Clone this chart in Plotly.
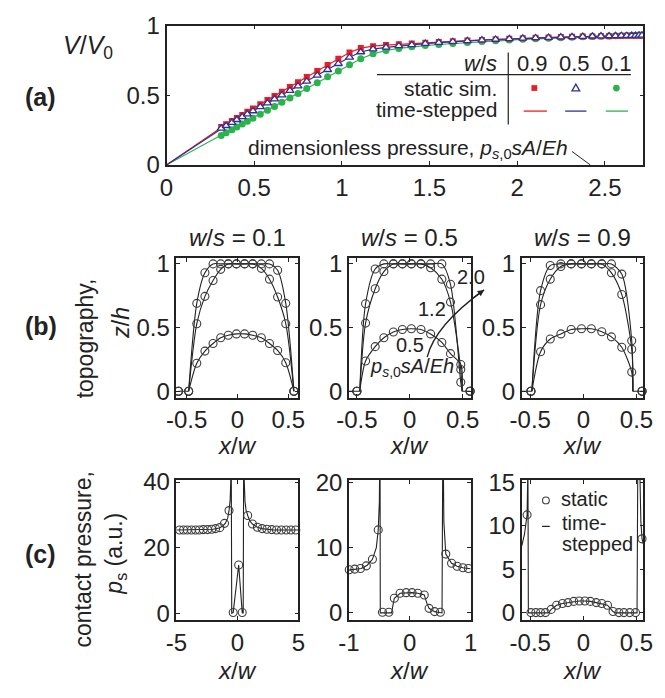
import plotly.graph_objects as go

W, H = 665, 698
def px(x): return x / W
def py(y): return 1 - y / H

FONT = "Liberation Sans, Arial, Helvetica, sans-serif"
INK = "#222222"
GRAY = "#3c3c3c"
RED = "#ED1C24"; BLUE = "#2E3192"; GREEN = "#2BB24C"

# ---------------- panel (a): V/V0 vs dimensionless pressure ----------------
a_p = [0.312, 0.340, 0.373, 0.401, 0.432, 0.461, 0.493, 0.535, 0.576, 0.616, 0.658, 0.704,
       0.750, 0.800, 0.860, 0.919, 0.980, 1.044, 1.108, 1.178, 1.252, 1.325, 1.399, 1.476,
       1.553, 1.633, 1.716, 1.799, 1.877, 1.955, 2.032, 2.105, 2.179, 2.249, 2.313, 2.374,
       2.429, 2.478, 2.524, 2.561, 2.594, 2.625, 2.653, 2.675, 2.695, 2.712]
a_v09 = [0.272, 0.292, 0.316, 0.337, 0.359, 0.381, 0.404, 0.435, 0.465, 0.494, 0.525, 0.559,
         0.593, 0.630, 0.674, 0.717, 0.761, 0.807, 0.838, 0.852, 0.860, 0.866, 0.871, 0.876,
         0.882, 0.887, 0.892, 0.897, 0.901, 0.905, 0.909, 0.912, 0.915, 0.917, 0.919, 0.921,
         0.922, 0.923, 0.924, 0.925, 0.925, 0.926, 0.926, 0.926, 0.927, 0.927]
a_v05 = [0.262, 0.281, 0.304, 0.324, 0.345, 0.365, 0.387, 0.416, 0.444, 0.472, 0.501, 0.533,
         0.565, 0.600, 0.642, 0.683, 0.726, 0.772, 0.810, 0.831, 0.844, 0.854, 0.862, 0.870,
         0.877, 0.884, 0.890, 0.895, 0.900, 0.904, 0.908, 0.911, 0.914, 0.917, 0.919, 0.921,
         0.923, 0.924, 0.925, 0.926, 0.927, 0.927, 0.928, 0.928, 0.929, 0.929]
a_v01 = [0.212, 0.231, 0.253, 0.272, 0.293, 0.313, 0.335, 0.364, 0.392, 0.420, 0.449, 0.481,
         0.513, 0.548, 0.590, 0.632, 0.674, 0.719, 0.762, 0.797, 0.821, 0.836, 0.847, 0.856,
         0.864, 0.871, 0.878, 0.885, 0.891, 0.896, 0.901, 0.905, 0.909, 0.913, 0.916, 0.919,
         0.921, 0.923, 0.925, 0.927, 0.928, 0.929, 0.930, 0.931, 0.932, 0.933]
a_xticks = [0, 0.5, 1, 1.5, 2, 2.5]
a_xticklabels = ["0", "0.5", "1", "1.5", "2", "2.5"]
a_yticks = [0, 0.5, 1]
a_yticklabels = ["0", "0.5", "1"]

# ---------------- panel (b): topography z/h ----------------
b1_x = [-0.58, -0.48, -0.40, -0.32, -0.24, -0.165, -0.09, -0.01, 0.07, 0.15, 0.235, 0.315, 0.395, 0.475, 0.555]
b1_z05 = [0, 0, 0.22, 0.315, 0.375, 0.42, 0.44, 0.45, 0.45, 0.44, 0.42, 0.375, 0.32, 0.224, 0]
b1_z12 = [0, 0, 0.53, 0.745, 0.87, 0.957, 1.0, 1.0, 1.0, 1.0, 0.965, 0.88, 0.74, 0.53, 0]
b1_z20 = [0, 0, 0.69, 0.93, 1.0, 1.0, 1.0, 1.0, 1.0, 1.0, 1.0, 1.0, 0.95, 0.69, 0]
b1_edges = [-0.58, -0.48, 0.555, 0.555]   # floor left start, rise, drop, floor right end

b2_x = [-0.50, -0.418, -0.327, -0.245, -0.155, -0.07, 0.015, 0.106, 0.197, 0.303, 0.385, 0.482, 0.57]
b2_z05 = [0, 0.237, 0.35, 0.42, 0.465, 0.485, 0.49, 0.485, 0.45, 0.383, 0.295, 0.21, 0]
b2_z12 = [0, 0.535, 0.805, 0.94, 1.0, 1.0, 1.0, 1.0, 0.97, 0.88, 0.70, 0.17, 0]
b2_z20 = [0, 0.687, 0.96, 1.0, 1.0, 1.0, 1.0, 1.0, 1.0, 1.0, 0.84, 0.07, 0]
b2_edges = [-0.575, -0.473, 0.495, 0.575]

b3_x = [-0.494, -0.403, -0.312, -0.212, -0.115, -0.018, 0.075, 0.173, 0.264, 0.361, 0.455, 0.552]
b3_z05 = [0, 0.31, 0.41, 0.45, 0.485, 0.49, 0.49, 0.467, 0.427, 0.345, 0.15, 0]
b3_z12 = [0, 0.68, 0.88, 0.98, 1.0, 1.0, 1.0, 1.0, 0.93, 0.76, 0.33, 0]
b3_z20 = [0, 0.79, 0.987, 1.0, 1.0, 1.0, 1.0, 1.0, 1.0, 0.92, 0.396, 0]
b3_edges = [-0.58, -0.485, 0.466, 0.565]

b_xticks = [-0.5, 0, 0.5]
b_xticklabels = ["-0.5", "0", "0.5"]
b_yticks = [0, 0.5, 1]
b_yticklabels = ["0", "0.5", "1"]
b_titles = ["<i>w</i>/<i>s</i> = 0.1", "<i>w</i>/<i>s</i> = 0.5", "<i>w</i>/<i>s</i> = 0.9"]

# ---------------- panel (c): contact pressure ----------------
c1_x = [-4.74, -4.42, -4.11, -3.77, -3.43, -3.12, -2.80, -2.45, -2.11, -1.79, -1.45, -1.06, -0.69,
        -0.35, 0.10, 0.39, 0.84, 1.23, 1.63, 2.02, 2.41, 2.81, 3.20, 3.60, 3.99, 4.38, 4.78]
c1_p = [25.4, 25.4, 25.4, 25.4, 25.4, 25.4, 25.5, 25.5, 25.6, 25.8, 26.1, 27.4, 31.3,
        0.2, 14.7, 0.2, 29.8, 27.2, 26.2, 25.8, 25.6, 25.5, 25.4, 25.4, 25.4, 25.4, 25.4]
c1_line_x = [-5.0, -4.0, -3.0, -2.5, -2.0, -1.5, -1.2, -1.0, -0.8, -0.69, -0.6, -0.55, -0.52, -0.47,
             -0.35, 0.10, 0.39, 0.47, 0.52, 0.56, 0.62, 0.70, 0.84, 1.0, 1.23, 1.63, 2.0, 2.5, 3.0, 4.0, 5.0]
c1_line_p = [25.4, 25.4, 25.4, 25.5, 25.6, 26.0, 26.6, 27.4, 29.0, 31.3, 34.5, 40.0, 60.0, 0.0,
             0.2, 14.7, 0.2, 0.0, 60.0, 40.0, 34.0, 31.5, 29.8, 28.2, 27.2, 26.2, 25.8, 25.6, 25.4, 25.4, 25.4]

c2_x = [-0.995, -0.905, -0.81, -0.714, -0.614, -0.519, -0.449, -0.344, -0.254, -0.159, -0.059,
        0.037, 0.132, 0.238, 0.317, 0.408, 0.503, 0.592, 0.687, 0.778, 0.873, 0.963]
c2_p = [6.6, 6.7, 6.8, 7.2, 8.2, 12.7, 0.1, 0.1, 2.25, 3.0, 3.1, 3.1, 3.0, 2.75, 0.7, 0.2, 0.1,
        9.0, 7.6, 7.15, 6.9, 6.8]
c2_line_x = [-1.0, -0.9, -0.8, -0.7, -0.614, -0.55, -0.519, -0.5, -0.49, -0.485, -0.30, -0.27,
             -0.254, -0.159, -0.059, 0.037, 0.132, 0.238, 0.28, 0.317, 0.408, 0.503, 0.53, 0.545,
             0.56, 0.592, 0.687, 0.778, 0.873, 0.963, 1.0]
c2_line_p = [6.55, 6.65, 6.8, 7.3, 8.2, 10.0, 12.7, 17.0, 30.0, 0.0, 0.0, 1.5, 2.25, 3.0, 3.1, 3.1,
             3.0, 2.75, 1.5, 0.7, 0.2, 0.1, 0.0, 30.0, 14.0, 9.0, 7.6, 7.15, 6.9, 6.8, 6.75]

c3_x = [-0.53, -0.494, -0.448, -0.403, -0.357, -0.303, -0.252, -0.197, -0.145, -0.091, -0.039,
        0.015, 0.066, 0.121, 0.173, 0.227, 0.279, 0.334, 0.382, 0.436, 0.491, 0.552]
c3_p = [11.25, 0.03, 0.03, 0.03, 0.03, 0.4, 0.88, 1.07, 1.18, 1.32, 1.36, 1.36, 1.32, 1.18, 1.07,
        0.88, 0.15, 0.03, 0.03, 0.03, 0.03, 8.5]
c3_line_x = [-0.58, -0.555, -0.53, -0.522, -0.518, -0.33, -0.303, -0.252, -0.197, -0.145, -0.091,
             -0.039, 0.015, 0.066, 0.121, 0.173, 0.227, 0.279, 0.30, 0.505, 0.512, 0.53, 0.541,
             0.552, 0.565]
c3_line_p = [7.7, 9.0, 11.25, 17.0, 0.0, 0.0, 0.4, 0.88, 1.07, 1.18, 1.32, 1.36, 1.36, 1.32, 1.18,
             1.07, 0.88, 0.15, 0.0, 0.0, 17.0, 17.0, 10.5, 8.5, 7.9]

c1_ticks = [0, 20, 40]
c2_ticks = [0, 10, 20]
c3_ticks = [0, 5, 10, 15]
c1_xticks = [-5, 0, 5]
c2_xticks = [-1, 0, 1]
c3_xticks = [-0.5, 0, 0.5]
c3_xticklabels = ["-0.5", "0", "0.5"]

fig = go.Figure()

# ---- (a) traces ----
for ys, col in [(a_v01, GREEN), (a_v09, RED), (a_v05, BLUE)]:
    fig.add_trace(go.Scatter(x=[0] + a_p, y=[0] + ys, mode="lines",
                             line=dict(color=col, width=1.2), xaxis="x", yaxis="y"))
fig.add_trace(go.Scatter(x=a_p, y=a_v01, mode="markers", xaxis="x", yaxis="y",
                         marker=dict(symbol="circle", size=7, color=GREEN, line=dict(width=0))))
fig.add_trace(go.Scatter(x=a_p, y=a_v09, mode="markers", xaxis="x", yaxis="y",
                         marker=dict(symbol="square", size=6, color=RED, line=dict(width=0))))
fig.add_trace(go.Scatter(x=a_p, y=a_v05, mode="markers", xaxis="x", yaxis="y",
                         marker=dict(symbol="triangle-up", size=7, color="white",
                                     line=dict(color=BLUE, width=1.3))))

# ---- (b) traces ----
def add_b(xs, curves, edges, ax):
    xa, ya = "x" + ax, "y" + ax
    left0, rise, drop, right1 = edges
    fx, fy = [left0, rise], [0, 0]
    if right1 > drop:
        fx += [None, drop, right1]; fy += [None, 0, 0]
    fig.add_trace(go.Scatter(x=fx, y=fy, mode="lines", line=dict(color=INK, width=1.1),
                             xaxis=xa, yaxis=ya))
    for zs in curves:
        inner = [(x, z) for x, z in zip(xs, zs) if rise < x < drop]
        lx = [rise] + [p[0] for p in inner] + [drop]
        lz = [0] + [p[1] for p in inner] + [0]
        fig.add_trace(go.Scatter(x=lx, y=lz, mode="lines",
                                 line=dict(color=INK, width=1.1, shape="spline", smoothing=0.8),
                                 xaxis=xa, yaxis=ya))
    for zs in curves:
        fig.add_trace(go.Scatter(x=xs, y=zs, mode="markers", cliponaxis=False,
                                 marker=dict(symbol="circle-open", size=8, color=GRAY,
                                             line=dict(width=1.1)),
                                 xaxis=xa, yaxis=ya))

add_b(b1_x, [b1_z05, b1_z12, b1_z20], b1_edges, "2")
add_b(b2_x, [b2_z05, b2_z12, b2_z20], b2_edges, "3")
add_b(b3_x, [b3_z05, b3_z12, b3_z20], b3_edges, "4")

# ---- (c) traces ----
for lx, lp, mx, mp, ax in [(c1_line_x, c1_line_p, c1_x, c1_p, "5"),
                           (c2_line_x, c2_line_p, c2_x, c2_p, "6"),
                           (c3_line_x, c3_line_p, c3_x, c3_p, "7")]:
    fig.add_trace(go.Scatter(x=lx, y=lp, mode="lines", line=dict(color=INK, width=1.1),
                             xaxis="x" + ax, yaxis="y" + ax))
    fig.add_trace(go.Scatter(x=mx, y=mp, mode="markers", cliponaxis=False,
                             marker=dict(symbol="circle-open", size=8, color=GRAY,
                                         line=dict(width=1.1)),
                             xaxis="x" + ax, yaxis="y" + ax))

# ---- axes ----
def axis(x0, x1, rng, tickvals, ticktext, anchor, vertical=False):
    dom = [py(x1), py(x0)] if vertical else [px(x0), px(x1)]
    return dict(domain=dom, range=rng, tickvals=tickvals, ticktext=ticktext, anchor=anchor,
                showline=True, linecolor=INK, linewidth=1.6, mirror="ticks",
                ticks="inside", ticklen=4, tickwidth=1, tickcolor=INK,
                showgrid=False, zeroline=False, fixedrange=True,
                tickfont=dict(family=FONT, size=24, color=INK))

layout = dict(
    width=W, height=H, margin=dict(l=0, r=0, t=0, b=0),
    paper_bgcolor="white", plot_bgcolor="white", showlegend=False,
    font=dict(family=FONT, color=INK),
)
layout["xaxis"] = axis(159, 653, [0, 2.72], a_xticks, a_xticklabels, "y")
layout["yaxis"] = axis(12, 157, [0, 1], a_yticks, a_yticklabels, "x", vertical=True)

bx = [(169.3, 295.7, [-0.6, 0.6]), (348, 474, [-0.575, 0.575]), (527, 653, [-0.58, 0.565])]
for i, (x0, x1, rng) in enumerate(bx):
    n = str(i + 2)
    layout["xaxis" + n] = axis(x0, x1, rng, b_xticks, b_xticklabels, "y" + n)
    layout["yaxis" + n] = axis(254, 399, [-0.05, 1.045], b_yticks, b_yticklabels, "x" + n, vertical=True)

cx = [(169.3, 295.7, [-5, 5], c1_xticks, [str(v) for v in c1_xticks], [-2.1, 40.7], c1_ticks),
      (348, 474, [-1, 1], c2_xticks, [str(v) for v in c2_xticks], [-1.1, 20.37], c2_ticks),
      (527, 653, [-0.58, 0.565], c3_xticks, c3_xticklabels, [-0.83, 15.28], c3_ticks)]
for i, (x0, x1, rng, xt, xtt, yr, yt) in enumerate(cx):
    n = str(i + 5)
    layout["xaxis" + n] = axis(x0, x1, rng, xt, xtt, "y" + n)
    layout["yaxis" + n] = axis(484.5, 630.5, yr, yt, [str(v) for v in yt], "x" + n, vertical=True)

fig.update_layout(**layout)

# ---- annotations ----
ann = []
def text(x, y, s, size=24, xanchor="center", yanchor="middle", angle=0):
    ann.append(dict(x=px(x), y=py(y), xref="paper", yref="paper", text=s, showarrow=False,
                    xanchor=xanchor, yanchor=yanchor, textangle=angle,
                    font=dict(family=FONT, size=size, color=INK)))

text(29, 86, "<b>(a)</b>", 25)
text(29, 325, "<b>(b)</b>", 25)
text(29, 562, "<b>(c)</b>", 25)
text(78, 34, "<i>V</i>/<i>V</i><sub>0</sub>", 25)

# legend table in (a)
text(503, 52, "<i>w</i>/<i>s</i>", 22, xanchor="right")
for xc, lab in [(538, "0.9"), (582, "0.5"), (625, "0.1")]:
    text(xc, 52, lab, 22)
text(503, 77, "static sim.", 21, xanchor="right")
text(503, 99, "time-stepped", 21, xanchor="right")
text(577, 140, "dimensionless pressure, <i>p</i><sub><i>s</i>,0</sub><i>sA</i>/<i>Eh</i>", 21,
     xanchor="right")

# (b) titles / labels
for xc, t in zip([232.5, 411, 590], b_titles):
    text(xc, 232, t, 24)
    text(xc, 449, "<i>x</i>/<i>w</i>", 24)
    text(xc, 683, "<i>x</i>/<i>w</i>", 24)
text(75, 337, "topography,", 23, angle=-90)
text(111, 321, "<i>z</i>/<i>h</i>", 23, angle=-90)
text(73, 567, "contact pressure,", 23, angle=-90)
text(106, 561, "<i>p</i><sub>s</sub> (a.u.)", 23, angle=-90)

# annotations inside b2
text(474, 274, "2.0", 20)
text(434, 307, "1.2", 20)
text(411, 344, "0.5", 20)
text(413, 368, "<i>p</i><sub><i>s</i>,0</sub><i>sA</i>/<i>Eh</i>", 20)
ann.append(dict(x=px(488), y=py(287), xref="paper", yref="paper", text=" ", showarrow=True,
                ax=-15, ay=11, arrowhead=2, arrowsize=1, arrowwidth=1.3, arrowcolor=INK))

# c3 legend
text(566, 505, "static", 20, xanchor="left")
text(567, 530, "time-", 20, xanchor="left")
text(567, 551, "stepped", 20, xanchor="left")

fig.update_layout(annotations=ann)

# ---- shapes (legend decorations) ----
shapes = []
def line(x0, y0, x1, y1, color=INK, width=1.2):
    shapes.append(dict(type="line", xref="paper", yref="paper", x0=px(x0), y0=py(y0),
                       x1=px(x1), y1=py(y1), line=dict(color=color, width=width)))

line(377, 63, 640, 63)
line(513, 40, 513, 115)
line(529, 101, 553, 101, RED, 1.3)
line(572, 101, 594, 101, BLUE, 1.3)
line(614, 101, 637, 101, GREEN, 1.3)
line(579, 143, 598, 157, INK, 1)
shapes.append(dict(type="rect", xref="paper", yref="paper", x0=px(537), x1=px(543),
                   y0=py(80), y1=py(74), fillcolor=RED, line=dict(width=0)))
shapes.append(dict(type="path", xref="paper", yref="paper",
                   path=f"M {px(583)} {py(73)} L {px(579)} {py(80)} L {px(587)} {py(80)} Z",
                   fillcolor="white", line=dict(color=BLUE, width=1.3)))
shapes.append(dict(type="circle", xref="paper", yref="paper", x0=px(621.5), x1=px(628.5),
                   y0=py(80.5), y1=py(73.5), fillcolor=GREEN, line=dict(width=0)))
shapes.append(dict(type="path", xref="paper", yref="paper",
                   path=f"M {px(429)} {py(357)} Q {px(437)} {py(324)} {px(488)} {py(287)}",
                   line=dict(color=INK, width=1.3)))
shapes.append(dict(type="circle", xref="paper", yref="paper", x0=px(548.5), x1=px(555.5),
                   y0=py(509.5), y1=py(502.5), line=dict(color=GRAY, width=1.1)))
line(548, 533, 556, 533, INK, 1.2)

fig.update_layout(shapes=shapes)
fig.write_html("out.html")
